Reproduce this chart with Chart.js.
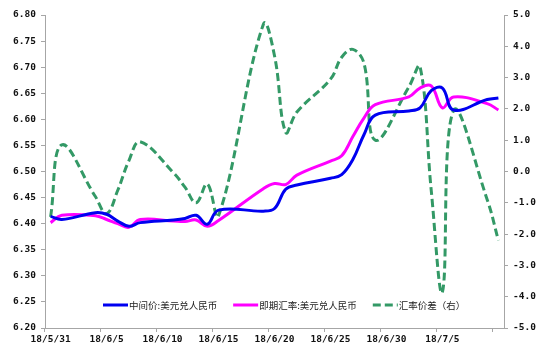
<!DOCTYPE html>
<html>
<head>
<meta charset="utf-8">
<style>
  html, body { margin: 0; padding: 0; background: #ffffff; }
  #wrap { position: relative; width: 536px; height: 349px; }
</style>
<script src="https://cdn.jsdelivr.net/npm/chart.js@4/dist/chart.umd.min.js"></script>
</head>
<body>
<div id="wrap"><canvas id="fx" width="536" height="349"></canvas></div>
<script>
// Trading days (CFETS), 2018-05-31 .. 2018-07-10
const tradeDates = [
  '2018-05-31', '2018-06-01', '2018-06-04', '2018-06-05', '2018-06-06', '2018-06-07', '2018-06-08',
  '2018-06-11', '2018-06-12', '2018-06-13', '2018-06-14', '2018-06-15',
  '2018-06-19', '2018-06-20', '2018-06-21', '2018-06-22',
  '2018-06-25', '2018-06-26', '2018-06-27', '2018-06-28', '2018-06-29',
  '2018-07-02', '2018-07-03', '2018-07-04', '2018-07-05', '2018-07-06',
  '2018-07-09', '2018-07-10'
];

// 中间价:美元兑人民币
const midRate = [
  6.414, 6.408, 6.421, 6.418, 6.405, 6.395, 6.402,
  6.407, 6.410, 6.416, 6.399, 6.426,
  6.424, 6.429, 6.466, 6.474,
  6.487, 6.494, 6.523, 6.571, 6.608,
  6.616, 6.622, 6.655, 6.660, 6.618,
  6.638, 6.641
];

// 即期汇率:美元兑人民币
const spotRate = [
  6.402, 6.416, 6.415, 6.408, 6.400, 6.393, 6.408,
  6.405, 6.404, 6.407, 6.395, 6.406,
  6.467, 6.477, 6.475, 6.493,
  6.520, 6.530, 6.567, 6.603, 6.628,
  6.643, 6.660, 6.664, 6.622, 6.643,
  6.630, 6.618
];

// 汇率价差（右轴）
const spread = [
  -1.45, 0.85, -0.80, -1.35, -0.60, 0.35, 0.95,
  -0.05, -0.50, -1.00, -0.40, -1.42,
  4.70, 3.70, 1.25, 1.90,
  2.95, 3.65, 3.90, 3.45, 1.00,
  2.70, 3.35, -0.60, -3.85, 1.95,
  -0.90, -2.20
];

const xTickLabels = ['18/5/31', '18/6/5', '18/6/10', '18/6/15', '18/6/20', '18/6/25', '18/6/30', '18/7/5'];
const seriesNames = ['中间价:美元兑人民币', '即期汇率:美元兑人民币', '汇率价差（右）'];

const DAY0 = Date.UTC(2018, 4, 31);
const DAY_COUNT = 41; // calendar days on the axis
function dayIndex(s) {
  const [y, m, d] = s.split('-').map(Number);
  return Math.round((Date.UTC(y, m - 1, d) - DAY0) / 86400000);
}
function toPoints(values) {
  return tradeDates.map((d, i) => ({ x: dayIndex(d), y: values[i] }));
}

const AXIS_GREY = '#a6a6a6';
const TICK_FONT = { family: "'DejaVu Sans Mono', 'Liberation Mono', monospace", size: 9.5, weight: 'bold' };

// Legend drawn inside the plot area, along its lower edge
const insideLegend = {
  id: 'insideLegend',
  afterDatasetsDraw(chart) {
    const { ctx, chartArea } = chart;
    ctx.save();
    ctx.font = "9.5px 'Noto Sans CJK SC', sans-serif";
    ctx.textBaseline = 'middle';
    const y = chartArea.bottom - 23;
    let x = chartArea.left + 58;
    chart.data.datasets.forEach((ds) => {
      ctx.beginPath();
      ctx.strokeStyle = ds.borderColor;
      ctx.lineWidth = 3;
      ctx.setLineDash(ds.borderDash || []);
      ctx.moveTo(x, y);
      ctx.lineTo(x + 25, y);
      ctx.stroke();
      ctx.setLineDash([]);
      x += 26;
      ctx.fillStyle = '#222222';
      ctx.fillText(ds.label, x, y + 0.5);
      x += ctx.measureText(ds.label).width + 16;
    });
    ctx.restore();
  }
};

new Chart(document.getElementById('fx'), {
  type: 'line',
  data: {
    datasets: [
      {
        label: seriesNames[0],
        data: toPoints(midRate),
        yAxisID: 'y',
        borderColor: '#0000f0',
        borderWidth: 3,
        tension: 0.4,
        pointRadius: 0
      },
      {
        label: seriesNames[1],
        data: toPoints(spotRate),
        yAxisID: 'y',
        borderColor: '#ff00ff',
        borderWidth: 3,
        tension: 0.4,
        pointRadius: 0
      },
      {
        label: seriesNames[2],
        data: toPoints(spread),
        yAxisID: 'y2',
        borderColor: '#339966',
        borderWidth: 3,
        borderDash: [8, 4],
        tension: 0.4,
        pointRadius: 0
      }
    ]
  },
  options: {
    responsive: false,
    animation: false,
    layout: { padding: { top: 15, left: 0, right: 0, bottom: 0 } },
    plugins: {
      legend: { display: false },
      tooltip: { enabled: false }
    },
    scales: {
      x: {
        type: 'linear',
        min: -0.5,
        max: DAY_COUNT - 0.5,
        afterBuildTicks(scale) {
          const t = [];
          for (let i = 0; i < DAY_COUNT; i++) t.push({ value: i });
          scale.ticks = t;
        },
        afterFit(scale) { scale.height = 21; },
        ticks: {
          autoSkip: false,
          maxRotation: 0,
          minRotation: 0,
          padding: 2,
          color: '#111111',
          font: TICK_FONT,
          callback: (v) => (v % 5 === 0 && xTickLabels[v / 5]) ? xTickLabels[v / 5] : ''
        },
        grid: {
          offset: true,
          drawOnChartArea: false,
          tickLength: 4,
          tickColor: (c) => (c.index !== undefined && c.index % 5 === 0) ? AXIS_GREY : 'rgba(0,0,0,0)'
        },
        border: { display: true, color: AXIS_GREY, width: 1 }
      },
      y: {
        position: 'left',
        min: 6.2,
        max: 6.8,
        afterFit(scale) { scale.width = 45; },
        ticks: {
          stepSize: 0.05,
          padding: 5,
          color: '#111111',
          font: TICK_FONT,
          callback: (v) => Number(v).toFixed(2)
        },
        grid: { drawOnChartArea: false, tickLength: 4, tickColor: AXIS_GREY },
        border: { display: true, color: AXIS_GREY, width: 1 }
      },
      y2: {
        position: 'right',
        min: -5,
        max: 5,
        afterFit(scale) { scale.width = 32; },
        ticks: {
          stepSize: 1,
          padding: 5,
          color: '#111111',
          font: TICK_FONT,
          callback: (v) => Number(v).toFixed(1)
        },
        grid: { drawOnChartArea: false, tickLength: 4, tickColor: AXIS_GREY },
        border: { display: true, color: AXIS_GREY, width: 1 }
      }
    }
  },
  plugins: [insideLegend]
});
</script>
</body>
</html>
